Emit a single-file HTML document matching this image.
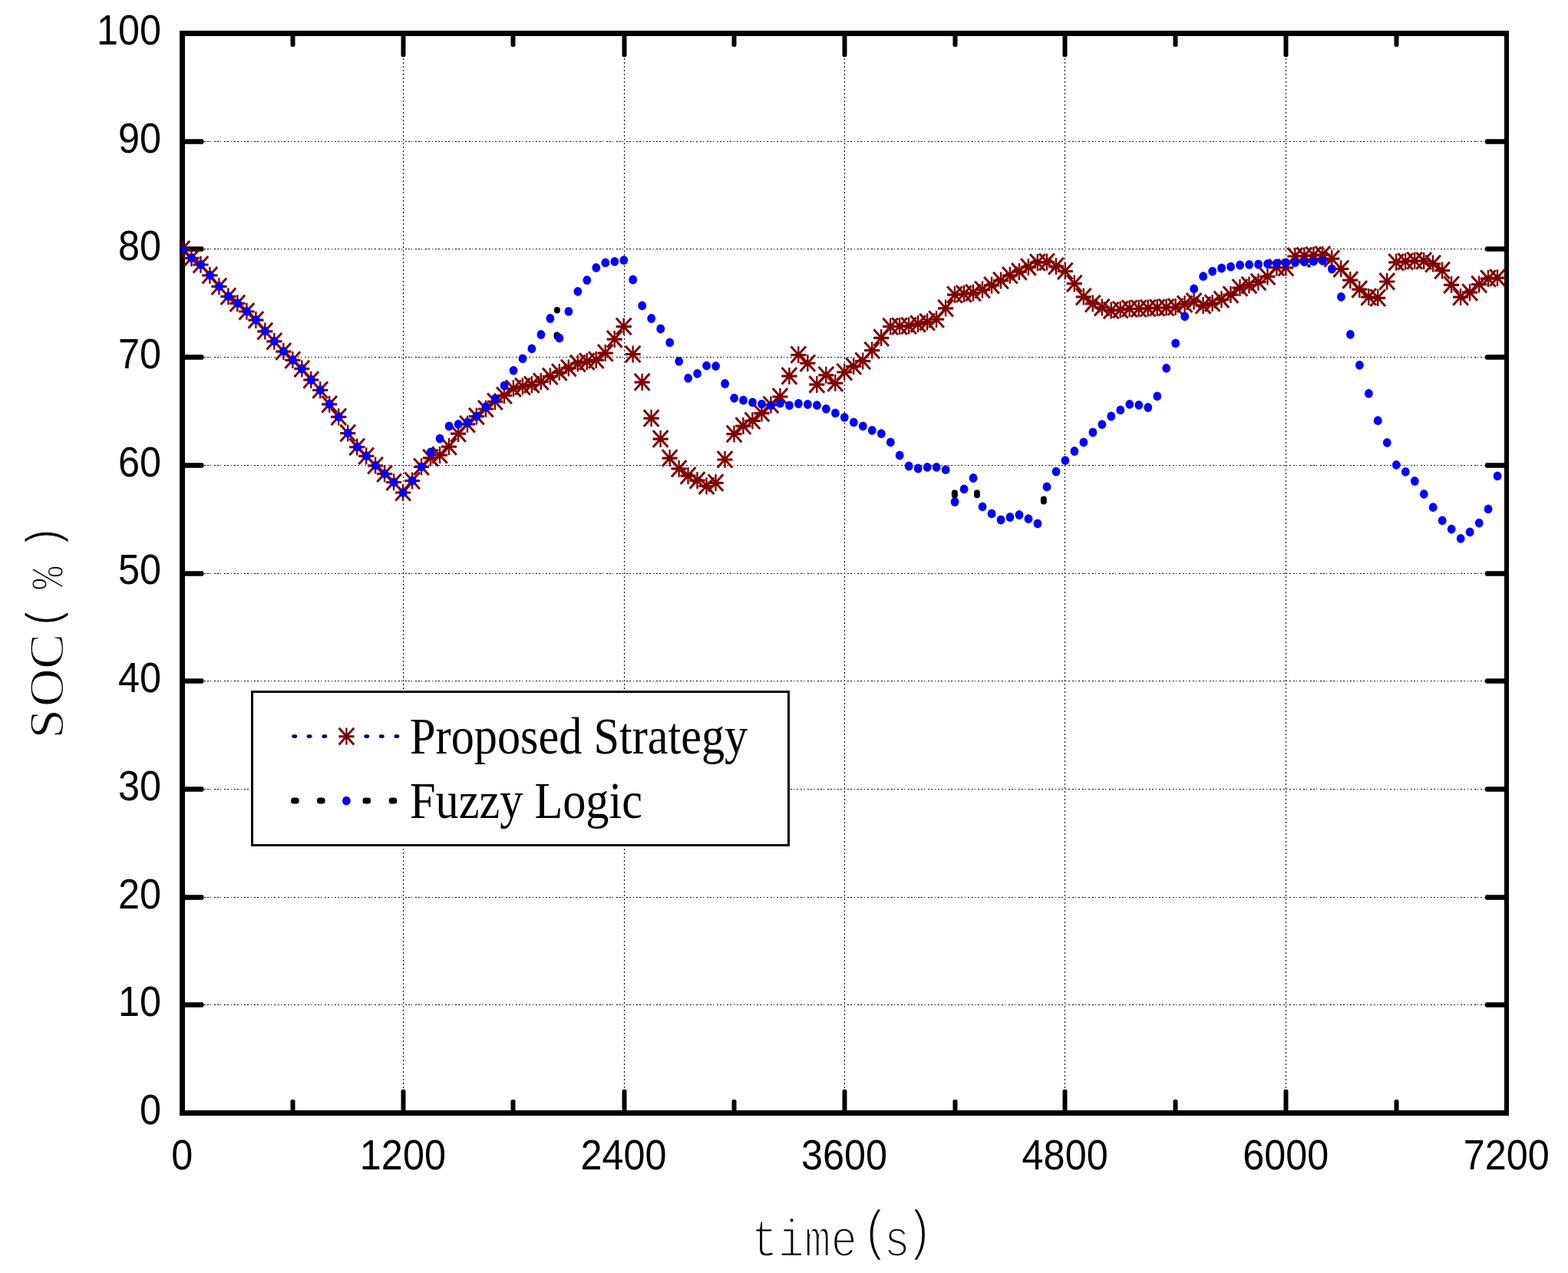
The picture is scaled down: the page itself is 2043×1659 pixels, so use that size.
<!DOCTYPE html>
<html lang="en">
<head>
<meta charset="utf-8">
<title>SOC vs time</title>
<style>
html,body{margin:0;padding:0;background:#fff;}
body{width:2043px;height:1659px;overflow:hidden;}
svg{display:block;}
</style>
</head>
<body>
<svg width="2043" height="1659" viewBox="0 0 2043 1659">
<rect width="2043" height="1659" fill="#fff"/>
<g stroke="#000" stroke-width="1" fill="none" shape-rendering="crispEdges">
<g stroke-dasharray="2 2.4 2 2.4 1 3.3">
<line x1="265.5" y1="1309.5" x2="1937.0" y2="1309.5"/>
<line x1="265.5" y1="1169.5" x2="1937.0" y2="1169.5"/>
<line x1="265.5" y1="1028.5" x2="1937.0" y2="1028.5"/>
<line x1="265.5" y1="887.5" x2="1937.0" y2="887.5"/>
<line x1="265.5" y1="747.5" x2="1937.0" y2="747.5"/>
<line x1="265.5" y1="606.5" x2="1937.0" y2="606.5"/>
<line x1="265.5" y1="465.5" x2="1937.0" y2="465.5"/>
<line x1="265.5" y1="324.5" x2="1937.0" y2="324.5"/>
<line x1="265.5" y1="184.5" x2="1937.0" y2="184.5"/>
</g>
<g stroke-dasharray="2 3">
<line x1="525.5" y1="75.5" x2="525.5" y2="1418.5"/>
<line x1="813.5" y1="75.5" x2="813.5" y2="1418.5"/>
<line x1="1100.5" y1="75.5" x2="1100.5" y2="1418.5"/>
<line x1="1387.5" y1="75.5" x2="1387.5" y2="1418.5"/>
<line x1="1675.5" y1="75.5" x2="1675.5" y2="1418.5"/>
</g>
</g>
<g fill="#000">
<rect x="237.5" y="1306.2" width="28.0" height="6.6" rx="2.2"/>
<rect x="1935.0" y="1306.2" width="28.0" height="6.6" rx="2.2"/>
<rect x="237.5" y="1166.2" width="28.0" height="6.6" rx="2.2"/>
<rect x="1935.0" y="1166.2" width="28.0" height="6.6" rx="2.2"/>
<rect x="237.5" y="1025.2" width="28.0" height="6.6" rx="2.2"/>
<rect x="1935.0" y="1025.2" width="28.0" height="6.6" rx="2.2"/>
<rect x="237.5" y="884.2" width="28.0" height="6.6" rx="2.2"/>
<rect x="1935.0" y="884.2" width="28.0" height="6.6" rx="2.2"/>
<rect x="237.5" y="744.2" width="28.0" height="6.6" rx="2.2"/>
<rect x="1935.0" y="744.2" width="28.0" height="6.6" rx="2.2"/>
<rect x="237.5" y="603.2" width="28.0" height="6.6" rx="2.2"/>
<rect x="1935.0" y="603.2" width="28.0" height="6.6" rx="2.2"/>
<rect x="237.5" y="462.2" width="28.0" height="6.6" rx="2.2"/>
<rect x="1935.0" y="462.2" width="28.0" height="6.6" rx="2.2"/>
<rect x="237.5" y="321.2" width="28.0" height="6.6" rx="2.2"/>
<rect x="1935.0" y="321.2" width="28.0" height="6.6" rx="2.2"/>
<rect x="237.5" y="181.2" width="28.0" height="6.6" rx="2.2"/>
<rect x="1935.0" y="181.2" width="28.0" height="6.6" rx="2.2"/>
<rect x="378.5" y="1433.0" width="6.0" height="17.5" rx="2.2"/>
<rect x="378.5" y="43.5" width="6.0" height="17.5" rx="2.2"/>
<rect x="522.5" y="1419.7" width="6.0" height="30.8" rx="2.2"/>
<rect x="522.5" y="43.5" width="6.0" height="30.8" rx="2.2"/>
<rect x="665.5" y="1433.0" width="6.0" height="17.5" rx="2.2"/>
<rect x="665.5" y="43.5" width="6.0" height="17.5" rx="2.2"/>
<rect x="810.5" y="1419.7" width="6.0" height="30.8" rx="2.2"/>
<rect x="810.5" y="43.5" width="6.0" height="30.8" rx="2.2"/>
<rect x="953.5" y="1433.0" width="6.0" height="17.5" rx="2.2"/>
<rect x="953.5" y="43.5" width="6.0" height="17.5" rx="2.2"/>
<rect x="1097.5" y="1419.7" width="6.0" height="30.8" rx="2.2"/>
<rect x="1097.5" y="43.5" width="6.0" height="30.8" rx="2.2"/>
<rect x="1241.5" y="1433.0" width="6.0" height="17.5" rx="2.2"/>
<rect x="1241.5" y="43.5" width="6.0" height="17.5" rx="2.2"/>
<rect x="1384.5" y="1419.7" width="6.0" height="30.8" rx="2.2"/>
<rect x="1384.5" y="43.5" width="6.0" height="30.8" rx="2.2"/>
<rect x="1528.5" y="1433.0" width="6.0" height="17.5" rx="2.2"/>
<rect x="1528.5" y="43.5" width="6.0" height="17.5" rx="2.2"/>
<rect x="1672.5" y="1419.7" width="6.0" height="30.8" rx="2.2"/>
<rect x="1672.5" y="43.5" width="6.0" height="30.8" rx="2.2"/>
<rect x="1816.5" y="1433.0" width="6.0" height="17.5" rx="2.2"/>
<rect x="1816.5" y="43.5" width="6.0" height="17.5" rx="2.2"/>
</g>
<g fill="#000" shape-rendering="crispEdges">
<rect x="234" y="40" width="7" height="1414"/>
<rect x="1960" y="40" width="6" height="1414"/>
<rect x="234" y="40" width="1732" height="7"/>
<rect x="234" y="1447" width="1732" height="7"/>
</g>
<defs><clipPath id="cp"><rect x="237" y="43.5" width="1730" height="1407.0"/></clipPath></defs>
<g clip-path="url(#cp)">
<rect x="721.9" y="399.9" width="8.0" height="8.5" rx="4" ry="4" fill="#000"/>
<rect x="721.6" y="432.5" width="8.0" height="10.0" rx="4" ry="4" fill="#000"/>
<rect x="1239.9" y="638.3" width="8.0" height="11.0" rx="4" ry="4" fill="#000"/>
<rect x="1269.0" y="638.3" width="8.0" height="11.0" rx="4" ry="4" fill="#000"/>
<rect x="1355.9" y="646.6" width="8.0" height="11.0" rx="4" ry="4" fill="#000"/>
<rect x="1703.5" y="344.5" width="4" height="4" fill="#000080"/>
<g stroke="#800000" fill="none"><path stroke-width="2.4" d="M237.5 313.7v22M249.5 325.2v22M261.5 333.8v22M273.4 347.7v22M285.4 362.2v22M297.4 375.2v22M309.4 384.2v22M321.4 394.8v22M333.4 405.9v22M345.3 420.6v22M357.3 433.7v22M369.3 446.9v22M381.3 458.1v22M393.3 469.5v22M405.3 484.0v22M417.2 497.3v22M429.2 515.7v22M441.2 532.2v22M453.2 553.4v22M465.2 571.4v22M477.2 583.2v22M489.1 595.6v22M501.1 606.3v22M513.1 617.3v22M525.1 630.8v22M537.1 615.4v22M549.0 597.3v22M561.0 585.6v22M573.0 582.0v22M585.0 570.9v22M597.0 554.0v22M609.0 541.7v22M620.9 531.5v22M632.9 521.8v22M644.9 512.2v22M656.9 504.3v22M668.9 495.3v22M680.9 492.6v22M692.8 490.2v22M704.8 486.2v22M716.8 479.5v22M728.8 474.1v22M740.8 468.6v22M752.8 462.6v22M764.7 460.1v22M776.7 458.1v22M788.7 448.9v22M800.7 430.9v22M812.7 414.4v22M824.6 450.5v22M836.6 486.9v22M848.6 534.0v22M860.6 560.9v22M872.6 586.0v22M884.6 599.7v22M896.5 608.9v22M908.5 615.0v22M920.5 622.3v22M932.5 618.1v22M944.5 587.8v22M956.5 554.4v22M968.4 544.0v22M980.4 537.3v22M992.4 527.5v22M1004.4 516.5v22M1016.4 505.8v22M1028.4 478.9v22M1040.3 451.3v22M1052.3 462.2v22M1064.3 490.0v22M1076.3 477.7v22M1088.3 488.1v22M1100.2 473.8v22M1112.2 466.3v22M1124.2 459.4v22M1136.2 445.5v22M1148.2 429.1v22M1160.2 414.5v22M1172.1 414.1v22M1184.1 413.5v22M1196.1 411.0v22M1208.1 408.6v22M1220.1 405.0v22M1232.1 390.6v22M1244.0 373.0v22M1256.0 372.0v22M1268.0 370.5v22M1280.0 366.5v22M1292.0 360.7v22M1304.0 354.5v22M1315.9 347.8v22M1327.9 342.9v22M1339.9 336.9v22M1351.9 331.0v22M1363.9 330.4v22M1375.9 335.9v22M1387.8 342.3v22M1399.8 358.5v22M1411.8 375.6v22M1423.8 384.6v22M1435.8 389.6v22M1447.7 393.5v22M1459.7 392.6v22M1471.7 391.1v22M1483.7 391.1v22M1495.7 390.6v22M1507.7 390.0v22M1519.6 389.6v22M1531.6 388.9v22M1543.6 385.2v22M1555.6 381.8v22M1567.6 386.9v22M1579.6 384.0v22M1591.5 379.3v22M1603.5 373.0v22M1615.5 363.9v22M1627.5 360.5v22M1639.5 356.5v22M1651.5 349.2v22M1663.4 337.5v22M1675.4 337.6v22M1687.4 322.8v22M1699.4 322.3v22M1711.4 321.6v22M1723.3 320.9v22M1735.3 326.0v22M1747.3 339.2v22M1759.3 353.9v22M1771.3 365.9v22M1783.3 375.9v22M1795.2 377.1v22M1807.2 355.8v22M1819.2 330.7v22M1831.2 329.7v22M1843.2 328.6v22M1855.2 328.9v22M1867.1 332.6v22M1879.1 341.4v22M1891.1 360.1v22M1903.1 375.9v22M1915.1 370.0v22M1927.1 359.5v22M1939.0 352.0v22M1951.0 350.9v22"/><path stroke-width="3.2" d="M227.4 324.9h20.2M239.4 336.4h20.2M251.4 345.0h20.2M263.3 358.9h20.2M275.3 373.4h20.2M287.3 386.4h20.2M299.3 395.4h20.2M311.3 406.0h20.2M323.3 417.1h20.2M335.2 431.8h20.2M347.2 444.9h20.2M359.2 458.1h20.2M371.2 469.3h20.2M383.2 480.7h20.2M395.2 495.2h20.2M407.1 508.5h20.2M419.1 526.9h20.2M431.1 543.4h20.2M443.1 564.6h20.2M455.1 582.6h20.2M467.1 594.4h20.2M479.0 606.8h20.2M491.0 617.5h20.2M503.0 628.5h20.2M515.0 642.0h20.2M527.0 626.6h20.2M538.9 608.5h20.2M550.9 596.8h20.2M562.9 593.2h20.2M574.9 582.1h20.2M586.9 565.2h20.2M598.9 552.9h20.2M610.8 542.7h20.2M622.8 533.0h20.2M634.8 523.4h20.2M646.8 515.5h20.2M658.8 506.5h20.2M670.8 503.8h20.2M682.7 501.4h20.2M694.7 497.4h20.2M706.7 490.7h20.2M718.7 485.3h20.2M730.7 479.8h20.2M742.7 473.8h20.2M754.6 471.3h20.2M766.6 469.3h20.2M778.6 460.1h20.2M790.6 442.1h20.2M802.6 425.6h20.2M814.5 461.7h20.2M826.5 498.1h20.2M838.5 545.2h20.2M850.5 572.1h20.2M862.5 597.2h20.2M874.5 610.9h20.2M886.4 620.1h20.2M898.4 626.2h20.2M910.4 633.5h20.2M922.4 629.3h20.2M934.4 599.0h20.2M946.4 565.6h20.2M958.3 555.2h20.2M970.3 548.5h20.2M982.3 538.7h20.2M994.3 527.7h20.2M1006.3 517.0h20.2M1018.3 490.1h20.2M1030.2 462.5h20.2M1042.2 473.4h20.2M1054.2 501.2h20.2M1066.2 488.9h20.2M1078.2 499.3h20.2M1090.2 485.0h20.2M1102.1 477.5h20.2M1114.1 470.6h20.2M1126.1 456.7h20.2M1138.1 440.3h20.2M1150.1 425.7h20.2M1162.0 425.3h20.2M1174.0 424.7h20.2M1186.0 422.2h20.2M1198.0 419.8h20.2M1210.0 416.2h20.2M1222.0 401.8h20.2M1233.9 384.2h20.2M1245.9 383.2h20.2M1257.9 381.7h20.2M1269.9 377.7h20.2M1281.9 371.9h20.2M1293.9 365.7h20.2M1305.8 359.0h20.2M1317.8 354.1h20.2M1329.8 348.1h20.2M1341.8 342.2h20.2M1353.8 341.6h20.2M1365.8 347.1h20.2M1377.7 353.5h20.2M1389.7 369.7h20.2M1401.7 386.8h20.2M1413.7 395.8h20.2M1425.7 400.8h20.2M1437.6 404.7h20.2M1449.6 403.8h20.2M1461.6 402.3h20.2M1473.6 402.3h20.2M1485.6 401.8h20.2M1497.6 401.2h20.2M1509.5 400.8h20.2M1521.5 400.1h20.2M1533.5 396.4h20.2M1545.5 393.0h20.2M1557.5 398.1h20.2M1569.5 395.2h20.2M1581.4 390.5h20.2M1593.4 384.2h20.2M1605.4 375.1h20.2M1617.4 371.7h20.2M1629.4 367.7h20.2M1641.4 360.4h20.2M1653.3 348.7h20.2M1665.3 348.8h20.2M1677.3 334.0h20.2M1689.3 333.5h20.2M1701.3 332.8h20.2M1713.2 332.1h20.2M1725.2 337.2h20.2M1737.2 350.4h20.2M1749.2 365.1h20.2M1761.2 377.1h20.2M1773.2 387.1h20.2M1785.1 388.3h20.2M1797.1 367.0h20.2M1809.1 341.9h20.2M1821.1 340.9h20.2M1833.1 339.8h20.2M1845.1 340.1h20.2M1857.0 343.8h20.2M1869.0 352.6h20.2M1881.0 371.3h20.2M1893.0 387.1h20.2M1905.0 381.2h20.2M1917.0 370.7h20.2M1928.9 363.2h20.2M1940.9 362.1h20.2"/><path stroke-width="3" d="M227.7 313.9l19.6 21.6m0-21.6l-19.6 21.6M239.7 325.4l19.6 21.6m0-21.6l-19.6 21.6M251.7 334.0l19.6 21.6m0-21.6l-19.6 21.6M263.6 347.9l19.6 21.6m0-21.6l-19.6 21.6M275.6 362.4l19.6 21.6m0-21.6l-19.6 21.6M287.6 375.4l19.6 21.6m0-21.6l-19.6 21.6M299.6 384.4l19.6 21.6m0-21.6l-19.6 21.6M311.6 395.0l19.6 21.6m0-21.6l-19.6 21.6M323.6 406.1l19.6 21.6m0-21.6l-19.6 21.6M335.5 420.8l19.6 21.6m0-21.6l-19.6 21.6M347.5 433.9l19.6 21.6m0-21.6l-19.6 21.6M359.5 447.1l19.6 21.6m0-21.6l-19.6 21.6M371.5 458.3l19.6 21.6m0-21.6l-19.6 21.6M383.5 469.7l19.6 21.6m0-21.6l-19.6 21.6M395.5 484.2l19.6 21.6m0-21.6l-19.6 21.6M407.4 497.5l19.6 21.6m0-21.6l-19.6 21.6M419.4 515.9l19.6 21.6m0-21.6l-19.6 21.6M431.4 532.4l19.6 21.6m0-21.6l-19.6 21.6M443.4 553.6l19.6 21.6m0-21.6l-19.6 21.6M455.4 571.6l19.6 21.6m0-21.6l-19.6 21.6M467.4 583.4l19.6 21.6m0-21.6l-19.6 21.6M479.3 595.8l19.6 21.6m0-21.6l-19.6 21.6M491.3 606.5l19.6 21.6m0-21.6l-19.6 21.6M503.3 617.5l19.6 21.6m0-21.6l-19.6 21.6M515.3 631.0l19.6 21.6m0-21.6l-19.6 21.6M527.3 615.6l19.6 21.6m0-21.6l-19.6 21.6M539.2 597.5l19.6 21.6m0-21.6l-19.6 21.6M551.2 585.8l19.6 21.6m0-21.6l-19.6 21.6M563.2 582.2l19.6 21.6m0-21.6l-19.6 21.6M575.2 571.1l19.6 21.6m0-21.6l-19.6 21.6M587.2 554.2l19.6 21.6m0-21.6l-19.6 21.6M599.2 541.9l19.6 21.6m0-21.6l-19.6 21.6M611.1 531.7l19.6 21.6m0-21.6l-19.6 21.6M623.1 522.0l19.6 21.6m0-21.6l-19.6 21.6M635.1 512.4l19.6 21.6m0-21.6l-19.6 21.6M647.1 504.5l19.6 21.6m0-21.6l-19.6 21.6M659.1 495.5l19.6 21.6m0-21.6l-19.6 21.6M671.1 492.8l19.6 21.6m0-21.6l-19.6 21.6M683.0 490.4l19.6 21.6m0-21.6l-19.6 21.6M695.0 486.4l19.6 21.6m0-21.6l-19.6 21.6M707.0 479.7l19.6 21.6m0-21.6l-19.6 21.6M719.0 474.3l19.6 21.6m0-21.6l-19.6 21.6M731.0 468.8l19.6 21.6m0-21.6l-19.6 21.6M743.0 462.8l19.6 21.6m0-21.6l-19.6 21.6M754.9 460.3l19.6 21.6m0-21.6l-19.6 21.6M766.9 458.3l19.6 21.6m0-21.6l-19.6 21.6M778.9 449.1l19.6 21.6m0-21.6l-19.6 21.6M790.9 431.1l19.6 21.6m0-21.6l-19.6 21.6M802.9 414.6l19.6 21.6m0-21.6l-19.6 21.6M814.8 450.7l19.6 21.6m0-21.6l-19.6 21.6M826.8 487.1l19.6 21.6m0-21.6l-19.6 21.6M838.8 534.2l19.6 21.6m0-21.6l-19.6 21.6M850.8 561.1l19.6 21.6m0-21.6l-19.6 21.6M862.8 586.2l19.6 21.6m0-21.6l-19.6 21.6M874.8 599.9l19.6 21.6m0-21.6l-19.6 21.6M886.7 609.1l19.6 21.6m0-21.6l-19.6 21.6M898.7 615.2l19.6 21.6m0-21.6l-19.6 21.6M910.7 622.5l19.6 21.6m0-21.6l-19.6 21.6M922.7 618.3l19.6 21.6m0-21.6l-19.6 21.6M934.7 588.0l19.6 21.6m0-21.6l-19.6 21.6M946.7 554.6l19.6 21.6m0-21.6l-19.6 21.6M958.6 544.2l19.6 21.6m0-21.6l-19.6 21.6M970.6 537.5l19.6 21.6m0-21.6l-19.6 21.6M982.6 527.7l19.6 21.6m0-21.6l-19.6 21.6M994.6 516.7l19.6 21.6m0-21.6l-19.6 21.6M1006.6 506.0l19.6 21.6m0-21.6l-19.6 21.6M1018.6 479.1l19.6 21.6m0-21.6l-19.6 21.6M1030.5 451.5l19.6 21.6m0-21.6l-19.6 21.6M1042.5 462.4l19.6 21.6m0-21.6l-19.6 21.6M1054.5 490.2l19.6 21.6m0-21.6l-19.6 21.6M1066.5 477.9l19.6 21.6m0-21.6l-19.6 21.6M1078.5 488.3l19.6 21.6m0-21.6l-19.6 21.6M1090.5 474.0l19.6 21.6m0-21.6l-19.6 21.6M1102.4 466.5l19.6 21.6m0-21.6l-19.6 21.6M1114.4 459.6l19.6 21.6m0-21.6l-19.6 21.6M1126.4 445.7l19.6 21.6m0-21.6l-19.6 21.6M1138.4 429.3l19.6 21.6m0-21.6l-19.6 21.6M1150.4 414.7l19.6 21.6m0-21.6l-19.6 21.6M1162.3 414.3l19.6 21.6m0-21.6l-19.6 21.6M1174.3 413.7l19.6 21.6m0-21.6l-19.6 21.6M1186.3 411.2l19.6 21.6m0-21.6l-19.6 21.6M1198.3 408.8l19.6 21.6m0-21.6l-19.6 21.6M1210.3 405.2l19.6 21.6m0-21.6l-19.6 21.6M1222.3 390.8l19.6 21.6m0-21.6l-19.6 21.6M1234.2 373.2l19.6 21.6m0-21.6l-19.6 21.6M1246.2 372.2l19.6 21.6m0-21.6l-19.6 21.6M1258.2 370.7l19.6 21.6m0-21.6l-19.6 21.6M1270.2 366.7l19.6 21.6m0-21.6l-19.6 21.6M1282.2 360.9l19.6 21.6m0-21.6l-19.6 21.6M1294.2 354.7l19.6 21.6m0-21.6l-19.6 21.6M1306.1 348.0l19.6 21.6m0-21.6l-19.6 21.6M1318.1 343.1l19.6 21.6m0-21.6l-19.6 21.6M1330.1 337.1l19.6 21.6m0-21.6l-19.6 21.6M1342.1 331.2l19.6 21.6m0-21.6l-19.6 21.6M1354.1 330.6l19.6 21.6m0-21.6l-19.6 21.6M1366.1 336.1l19.6 21.6m0-21.6l-19.6 21.6M1378.0 342.5l19.6 21.6m0-21.6l-19.6 21.6M1390.0 358.7l19.6 21.6m0-21.6l-19.6 21.6M1402.0 375.8l19.6 21.6m0-21.6l-19.6 21.6M1414.0 384.8l19.6 21.6m0-21.6l-19.6 21.6M1426.0 389.8l19.6 21.6m0-21.6l-19.6 21.6M1437.9 393.7l19.6 21.6m0-21.6l-19.6 21.6M1449.9 392.8l19.6 21.6m0-21.6l-19.6 21.6M1461.9 391.3l19.6 21.6m0-21.6l-19.6 21.6M1473.9 391.3l19.6 21.6m0-21.6l-19.6 21.6M1485.9 390.8l19.6 21.6m0-21.6l-19.6 21.6M1497.9 390.2l19.6 21.6m0-21.6l-19.6 21.6M1509.8 389.8l19.6 21.6m0-21.6l-19.6 21.6M1521.8 389.1l19.6 21.6m0-21.6l-19.6 21.6M1533.8 385.4l19.6 21.6m0-21.6l-19.6 21.6M1545.8 382.0l19.6 21.6m0-21.6l-19.6 21.6M1557.8 387.1l19.6 21.6m0-21.6l-19.6 21.6M1569.8 384.2l19.6 21.6m0-21.6l-19.6 21.6M1581.7 379.5l19.6 21.6m0-21.6l-19.6 21.6M1593.7 373.2l19.6 21.6m0-21.6l-19.6 21.6M1605.7 364.1l19.6 21.6m0-21.6l-19.6 21.6M1617.7 360.7l19.6 21.6m0-21.6l-19.6 21.6M1629.7 356.7l19.6 21.6m0-21.6l-19.6 21.6M1641.7 349.4l19.6 21.6m0-21.6l-19.6 21.6M1653.6 337.7l19.6 21.6m0-21.6l-19.6 21.6M1665.6 337.8l19.6 21.6m0-21.6l-19.6 21.6M1677.6 323.0l19.6 21.6m0-21.6l-19.6 21.6M1689.6 322.5l19.6 21.6m0-21.6l-19.6 21.6M1701.6 321.8l19.6 21.6m0-21.6l-19.6 21.6M1713.5 321.1l19.6 21.6m0-21.6l-19.6 21.6M1725.5 326.2l19.6 21.6m0-21.6l-19.6 21.6M1737.5 339.4l19.6 21.6m0-21.6l-19.6 21.6M1749.5 354.1l19.6 21.6m0-21.6l-19.6 21.6M1761.5 366.1l19.6 21.6m0-21.6l-19.6 21.6M1773.5 376.1l19.6 21.6m0-21.6l-19.6 21.6M1785.4 377.3l19.6 21.6m0-21.6l-19.6 21.6M1797.4 356.0l19.6 21.6m0-21.6l-19.6 21.6M1809.4 330.9l19.6 21.6m0-21.6l-19.6 21.6M1821.4 329.9l19.6 21.6m0-21.6l-19.6 21.6M1833.4 328.8l19.6 21.6m0-21.6l-19.6 21.6M1845.4 329.1l19.6 21.6m0-21.6l-19.6 21.6M1857.3 332.8l19.6 21.6m0-21.6l-19.6 21.6M1869.3 341.6l19.6 21.6m0-21.6l-19.6 21.6M1881.3 360.3l19.6 21.6m0-21.6l-19.6 21.6M1893.3 376.1l19.6 21.6m0-21.6l-19.6 21.6M1905.3 370.2l19.6 21.6m0-21.6l-19.6 21.6M1917.3 359.7l19.6 21.6m0-21.6l-19.6 21.6M1929.2 352.2l19.6 21.6m0-21.6l-19.6 21.6M1941.2 351.1l19.6 21.6m0-21.6l-19.6 21.6"/><path stroke-width="6.8" stroke-linecap="round" d="M237.5 324.7h0.01M249.5 336.2h0.01M261.5 344.8h0.01M273.4 358.7h0.01M285.4 373.2h0.01M297.4 386.2h0.01M309.4 395.2h0.01M321.4 405.8h0.01M333.4 416.9h0.01M345.3 431.6h0.01M357.3 444.7h0.01M369.3 457.9h0.01M381.3 469.1h0.01M393.3 480.5h0.01M405.3 495.0h0.01M417.2 508.3h0.01M429.2 526.7h0.01M441.2 543.2h0.01M453.2 564.4h0.01M465.2 582.4h0.01M477.2 594.2h0.01M489.1 606.6h0.01M501.1 617.3h0.01M513.1 628.3h0.01M525.1 641.8h0.01M537.1 626.4h0.01M549.0 608.3h0.01M561.0 596.6h0.01M573.0 593.0h0.01M585.0 581.9h0.01M597.0 565.0h0.01M609.0 552.7h0.01M620.9 542.5h0.01M632.9 532.8h0.01M644.9 523.2h0.01M656.9 515.3h0.01M668.9 506.3h0.01M680.9 503.6h0.01M692.8 501.2h0.01M704.8 497.2h0.01M716.8 490.5h0.01M728.8 485.1h0.01M740.8 479.6h0.01M752.8 473.6h0.01M764.7 471.1h0.01M776.7 469.1h0.01M788.7 459.9h0.01M800.7 441.9h0.01M812.7 425.4h0.01M824.6 461.5h0.01M836.6 497.9h0.01M848.6 545.0h0.01M860.6 571.9h0.01M872.6 597.0h0.01M884.6 610.7h0.01M896.5 619.9h0.01M908.5 626.0h0.01M920.5 633.3h0.01M932.5 629.1h0.01M944.5 598.8h0.01M956.5 565.4h0.01M968.4 555.0h0.01M980.4 548.3h0.01M992.4 538.5h0.01M1004.4 527.5h0.01M1016.4 516.8h0.01M1028.4 489.9h0.01M1040.3 462.3h0.01M1052.3 473.2h0.01M1064.3 501.0h0.01M1076.3 488.7h0.01M1088.3 499.1h0.01M1100.2 484.8h0.01M1112.2 477.3h0.01M1124.2 470.4h0.01M1136.2 456.5h0.01M1148.2 440.1h0.01M1160.2 425.5h0.01M1172.1 425.1h0.01M1184.1 424.5h0.01M1196.1 422.0h0.01M1208.1 419.6h0.01M1220.1 416.0h0.01M1232.1 401.6h0.01M1244.0 384.0h0.01M1256.0 383.0h0.01M1268.0 381.5h0.01M1280.0 377.5h0.01M1292.0 371.7h0.01M1304.0 365.5h0.01M1315.9 358.8h0.01M1327.9 353.9h0.01M1339.9 347.9h0.01M1351.9 342.0h0.01M1363.9 341.4h0.01M1375.9 346.9h0.01M1387.8 353.3h0.01M1399.8 369.5h0.01M1411.8 386.6h0.01M1423.8 395.6h0.01M1435.8 400.6h0.01M1447.7 404.5h0.01M1459.7 403.6h0.01M1471.7 402.1h0.01M1483.7 402.1h0.01M1495.7 401.6h0.01M1507.7 401.0h0.01M1519.6 400.6h0.01M1531.6 399.9h0.01M1543.6 396.2h0.01M1555.6 392.8h0.01M1567.6 397.9h0.01M1579.6 395.0h0.01M1591.5 390.3h0.01M1603.5 384.0h0.01M1615.5 374.9h0.01M1627.5 371.5h0.01M1639.5 367.5h0.01M1651.5 360.2h0.01M1663.4 348.5h0.01M1675.4 348.6h0.01M1687.4 333.8h0.01M1699.4 333.3h0.01M1711.4 332.6h0.01M1723.3 331.9h0.01M1735.3 337.0h0.01M1747.3 350.2h0.01M1759.3 364.9h0.01M1771.3 376.9h0.01M1783.3 386.9h0.01M1795.2 388.1h0.01M1807.2 366.8h0.01M1819.2 341.7h0.01M1831.2 340.7h0.01M1843.2 339.6h0.01M1855.2 339.9h0.01M1867.1 343.6h0.01M1879.1 352.4h0.01M1891.1 371.1h0.01M1903.1 386.9h0.01M1915.1 381.0h0.01M1927.1 370.5h0.01M1939.0 363.0h0.01M1951.0 361.9h0.01"/></g>
<g fill="#0000ff"><ellipse cx="237.6" cy="324.7" rx="5.4" ry="5.9"/><ellipse cx="249.6" cy="336.2" rx="5.4" ry="5.9"/><ellipse cx="261.6" cy="344.8" rx="5.4" ry="5.9"/><ellipse cx="273.5" cy="358.7" rx="5.4" ry="5.9"/><ellipse cx="285.5" cy="373.2" rx="5.4" ry="5.9"/><ellipse cx="297.5" cy="386.2" rx="5.4" ry="5.9"/><ellipse cx="309.5" cy="395.2" rx="5.4" ry="5.9"/><ellipse cx="321.5" cy="405.8" rx="5.4" ry="5.9"/><ellipse cx="333.5" cy="416.9" rx="5.4" ry="5.9"/><ellipse cx="345.4" cy="431.6" rx="5.4" ry="5.9"/><ellipse cx="357.4" cy="444.7" rx="5.4" ry="5.9"/><ellipse cx="369.4" cy="457.9" rx="5.4" ry="5.9"/><ellipse cx="381.4" cy="469.1" rx="5.4" ry="5.9"/><ellipse cx="393.4" cy="480.5" rx="5.4" ry="5.9"/><ellipse cx="405.4" cy="495.0" rx="5.4" ry="5.9"/><ellipse cx="417.3" cy="508.3" rx="5.4" ry="5.9"/><ellipse cx="429.3" cy="526.7" rx="5.4" ry="5.9"/><ellipse cx="441.3" cy="543.2" rx="5.4" ry="5.9"/><ellipse cx="453.3" cy="564.4" rx="5.4" ry="5.9"/><ellipse cx="465.3" cy="582.4" rx="5.4" ry="5.9"/><ellipse cx="477.3" cy="594.2" rx="5.4" ry="5.9"/><ellipse cx="489.2" cy="606.6" rx="5.4" ry="5.9"/><ellipse cx="501.2" cy="617.3" rx="5.4" ry="5.9"/><ellipse cx="513.2" cy="628.3" rx="5.4" ry="5.9"/><ellipse cx="525.2" cy="641.8" rx="5.4" ry="5.9"/><ellipse cx="537.2" cy="626.4" rx="5.4" ry="5.9"/><ellipse cx="549.1" cy="608.3" rx="5.4" ry="5.9"/><ellipse cx="561.1" cy="589.3" rx="5.4" ry="5.9"/><ellipse cx="573.1" cy="571.6" rx="5.4" ry="5.9"/><ellipse cx="585.1" cy="555.5" rx="5.4" ry="5.9"/><ellipse cx="597.1" cy="552.9" rx="5.4" ry="5.9"/><ellipse cx="609.1" cy="550.3" rx="5.4" ry="5.9"/><ellipse cx="621.0" cy="542.5" rx="5.4" ry="5.9"/><ellipse cx="633.0" cy="530.1" rx="5.4" ry="5.9"/><ellipse cx="645.0" cy="519.6" rx="5.4" ry="5.9"/><ellipse cx="657.0" cy="502.7" rx="5.4" ry="5.9"/><ellipse cx="669.0" cy="482.8" rx="5.4" ry="5.9"/><ellipse cx="681.0" cy="467.3" rx="5.4" ry="5.9"/><ellipse cx="692.9" cy="454.4" rx="5.4" ry="5.9"/><ellipse cx="704.9" cy="436.0" rx="5.4" ry="5.9"/><ellipse cx="716.9" cy="415.0" rx="5.4" ry="5.9"/><ellipse cx="728.9" cy="440.7" rx="5.4" ry="5.9"/><ellipse cx="740.9" cy="405.8" rx="5.4" ry="5.9"/><ellipse cx="752.9" cy="379.8" rx="5.4" ry="5.9"/><ellipse cx="764.8" cy="365.1" rx="5.4" ry="5.9"/><ellipse cx="776.8" cy="348.9" rx="5.4" ry="5.9"/><ellipse cx="788.8" cy="342.4" rx="5.4" ry="5.9"/><ellipse cx="800.8" cy="340.8" rx="5.4" ry="5.9"/><ellipse cx="812.8" cy="339.1" rx="5.4" ry="5.9"/><ellipse cx="824.7" cy="364.5" rx="5.4" ry="5.9"/><ellipse cx="836.7" cy="398.4" rx="5.4" ry="5.9"/><ellipse cx="848.7" cy="415.0" rx="5.4" ry="5.9"/><ellipse cx="860.7" cy="428.5" rx="5.4" ry="5.9"/><ellipse cx="872.7" cy="446.3" rx="5.4" ry="5.9"/><ellipse cx="884.7" cy="470.8" rx="5.4" ry="5.9"/><ellipse cx="896.6" cy="492.9" rx="5.4" ry="5.9"/><ellipse cx="908.6" cy="486.8" rx="5.4" ry="5.9"/><ellipse cx="920.6" cy="476.6" rx="5.4" ry="5.9"/><ellipse cx="932.6" cy="477.1" rx="5.4" ry="5.9"/><ellipse cx="944.6" cy="500.0" rx="5.4" ry="5.9"/><ellipse cx="956.6" cy="518.9" rx="5.4" ry="5.9"/><ellipse cx="968.5" cy="521.7" rx="5.4" ry="5.9"/><ellipse cx="980.5" cy="524.4" rx="5.4" ry="5.9"/><ellipse cx="992.5" cy="526.6" rx="5.4" ry="5.9"/><ellipse cx="1004.5" cy="528.4" rx="5.4" ry="5.9"/><ellipse cx="1016.5" cy="525.7" rx="5.4" ry="5.9"/><ellipse cx="1028.5" cy="528.4" rx="5.4" ry="5.9"/><ellipse cx="1040.4" cy="526.0" rx="5.4" ry="5.9"/><ellipse cx="1052.4" cy="527.0" rx="5.4" ry="5.9"/><ellipse cx="1064.4" cy="528.2" rx="5.4" ry="5.9"/><ellipse cx="1076.4" cy="532.8" rx="5.4" ry="5.9"/><ellipse cx="1088.4" cy="538.3" rx="5.4" ry="5.9"/><ellipse cx="1100.3" cy="543.8" rx="5.4" ry="5.9"/><ellipse cx="1112.3" cy="550.3" rx="5.4" ry="5.9"/><ellipse cx="1124.3" cy="555.4" rx="5.4" ry="5.9"/><ellipse cx="1136.3" cy="560.9" rx="5.4" ry="5.9"/><ellipse cx="1148.3" cy="565.2" rx="5.4" ry="5.9"/><ellipse cx="1160.3" cy="576.4" rx="5.4" ry="5.9"/><ellipse cx="1172.2" cy="593.4" rx="5.4" ry="5.9"/><ellipse cx="1184.2" cy="607.5" rx="5.4" ry="5.9"/><ellipse cx="1196.2" cy="610.5" rx="5.4" ry="5.9"/><ellipse cx="1208.2" cy="608.9" rx="5.4" ry="5.9"/><ellipse cx="1220.2" cy="608.9" rx="5.4" ry="5.9"/><ellipse cx="1232.2" cy="612.2" rx="5.4" ry="5.9"/><ellipse cx="1244.1" cy="654.0" rx="5.4" ry="5.9"/><ellipse cx="1256.1" cy="637.4" rx="5.4" ry="5.9"/><ellipse cx="1268.1" cy="623.0" rx="5.4" ry="5.9"/><ellipse cx="1280.1" cy="660.3" rx="5.4" ry="5.9"/><ellipse cx="1292.1" cy="669.3" rx="5.4" ry="5.9"/><ellipse cx="1304.1" cy="677.5" rx="5.4" ry="5.9"/><ellipse cx="1316.0" cy="674.0" rx="5.4" ry="5.9"/><ellipse cx="1328.0" cy="671.0" rx="5.4" ry="5.9"/><ellipse cx="1340.0" cy="676.2" rx="5.4" ry="5.9"/><ellipse cx="1352.0" cy="682.3" rx="5.4" ry="5.9"/><ellipse cx="1364.0" cy="634.4" rx="5.4" ry="5.9"/><ellipse cx="1376.0" cy="614.7" rx="5.4" ry="5.9"/><ellipse cx="1387.9" cy="600.1" rx="5.4" ry="5.9"/><ellipse cx="1399.9" cy="588.0" rx="5.4" ry="5.9"/><ellipse cx="1411.9" cy="576.4" rx="5.4" ry="5.9"/><ellipse cx="1423.9" cy="563.5" rx="5.4" ry="5.9"/><ellipse cx="1435.9" cy="553.1" rx="5.4" ry="5.9"/><ellipse cx="1447.8" cy="542.5" rx="5.4" ry="5.9"/><ellipse cx="1459.8" cy="534.4" rx="5.4" ry="5.9"/><ellipse cx="1471.8" cy="526.8" rx="5.4" ry="5.9"/><ellipse cx="1483.8" cy="527.9" rx="5.4" ry="5.9"/><ellipse cx="1495.8" cy="531.0" rx="5.4" ry="5.9"/><ellipse cx="1507.8" cy="516.3" rx="5.4" ry="5.9"/><ellipse cx="1519.7" cy="479.9" rx="5.4" ry="5.9"/><ellipse cx="1531.7" cy="447.3" rx="5.4" ry="5.9"/><ellipse cx="1543.7" cy="412.3" rx="5.4" ry="5.9"/><ellipse cx="1555.7" cy="376.4" rx="5.4" ry="5.9"/><ellipse cx="1567.7" cy="360.2" rx="5.4" ry="5.9"/><ellipse cx="1579.7" cy="353.6" rx="5.4" ry="5.9"/><ellipse cx="1591.6" cy="349.5" rx="5.4" ry="5.9"/><ellipse cx="1603.6" cy="347.7" rx="5.4" ry="5.9"/><ellipse cx="1615.6" cy="345.5" rx="5.4" ry="5.9"/><ellipse cx="1627.6" cy="344.8" rx="5.4" ry="5.9"/><ellipse cx="1639.6" cy="344.5" rx="5.4" ry="5.9"/><ellipse cx="1651.6" cy="343.8" rx="5.4" ry="5.9"/><ellipse cx="1663.5" cy="343.3" rx="5.4" ry="5.9"/><ellipse cx="1675.5" cy="342.4" rx="5.4" ry="5.9"/><ellipse cx="1687.5" cy="342.1" rx="5.4" ry="5.9"/><ellipse cx="1699.5" cy="341.4" rx="5.4" ry="5.9"/><ellipse cx="1711.5" cy="340.7" rx="5.4" ry="5.9"/><ellipse cx="1723.4" cy="339.9" rx="5.4" ry="5.9"/><ellipse cx="1735.4" cy="350.5" rx="5.4" ry="5.9"/><ellipse cx="1747.4" cy="386.9" rx="5.4" ry="5.9"/><ellipse cx="1759.4" cy="435.8" rx="5.4" ry="5.9"/><ellipse cx="1771.4" cy="475.8" rx="5.4" ry="5.9"/><ellipse cx="1783.4" cy="512.9" rx="5.4" ry="5.9"/><ellipse cx="1795.3" cy="548.2" rx="5.4" ry="5.9"/><ellipse cx="1807.3" cy="576.9" rx="5.4" ry="5.9"/><ellipse cx="1819.3" cy="605.8" rx="5.4" ry="5.9"/><ellipse cx="1831.3" cy="614.8" rx="5.4" ry="5.9"/><ellipse cx="1843.3" cy="627.0" rx="5.4" ry="5.9"/><ellipse cx="1855.3" cy="643.9" rx="5.4" ry="5.9"/><ellipse cx="1867.2" cy="661.2" rx="5.4" ry="5.9"/><ellipse cx="1879.2" cy="678.3" rx="5.4" ry="5.9"/><ellipse cx="1891.2" cy="689.6" rx="5.4" ry="5.9"/><ellipse cx="1903.2" cy="701.8" rx="5.4" ry="5.9"/><ellipse cx="1915.2" cy="693.4" rx="5.4" ry="5.9"/><ellipse cx="1927.2" cy="681.6" rx="5.4" ry="5.9"/><ellipse cx="1939.1" cy="663.3" rx="5.4" ry="5.9"/><ellipse cx="1951.1" cy="620.3" rx="5.4" ry="5.9"/></g>
</g>
<rect x="328.5" y="901.5" width="699" height="199.5" fill="#fff" stroke="#000" stroke-width="3" shape-rendering="crispEdges"/>
<g fill="#000080">
<rect x="380.2" y="957.3" width="7" height="4.6" rx="2.3"/>
<rect x="399.6" y="957.3" width="7" height="4.6" rx="2.3"/>
<rect x="419.3" y="957.3" width="7" height="4.6" rx="2.3"/>
<rect x="474.3" y="957.3" width="7" height="4.6" rx="2.3"/>
<rect x="493.7" y="957.3" width="7" height="4.6" rx="2.3"/>
<rect x="513.4" y="957.3" width="7" height="4.6" rx="2.3"/>
</g>
<g stroke="#800000" fill="none"><path stroke-width="2.4" d="M451.4 948.6v22"/><path stroke-width="3.2" d="M441.3 959.8h20.2"/><path stroke-width="3" d="M441.6 948.8l19.6 21.6m0-21.6l-19.6 21.6"/><path stroke-width="6.8" stroke-linecap="round" d="M451.4 959.6h0.01"/></g>
<g fill="#000">
<rect x="379.1" y="1039.6" width="10.6" height="8" rx="3.6"/>
<rect x="413.0" y="1039.6" width="10.6" height="8" rx="3.6"/>
<rect x="472.5" y="1039.6" width="10.6" height="8" rx="3.6"/>
<rect x="506.7" y="1039.6" width="10.6" height="8" rx="3.6"/>
</g>
<g fill="#0000ff"><ellipse cx="451.4" cy="1043.7" rx="5.4" ry="5.9"/></g>
<g font-family="'Liberation Serif', serif" font-size="67.6" fill="#000">
<text transform="translate(534.1 982) scale(0.8914 1)">Proposed Strategy</text>
<text transform="translate(534.1 1066) scale(0.8914 1)">Fuzzy Logic</text>
</g>
<g font-family="'Liberation Sans', sans-serif" font-size="56.0" fill="#000">
<text transform="translate(210.1 1464.95) scale(0.8993 1)" text-anchor="end">0</text>
<text transform="translate(210.1 1324.25) scale(0.8993 1)" text-anchor="end">10</text>
<text transform="translate(210.1 1183.55) scale(0.8993 1)" text-anchor="end">20</text>
<text transform="translate(210.1 1042.85) scale(0.8993 1)" text-anchor="end">30</text>
<text transform="translate(210.1 902.15) scale(0.8993 1)" text-anchor="end">40</text>
<text transform="translate(210.1 761.45) scale(0.8993 1)" text-anchor="end">50</text>
<text transform="translate(210.1 620.75) scale(0.8993 1)" text-anchor="end">60</text>
<text transform="translate(210.1 480.05) scale(0.8993 1)" text-anchor="end">70</text>
<text transform="translate(210.1 339.35) scale(0.8993 1)" text-anchor="end">80</text>
<text transform="translate(210.1 198.65) scale(0.8993 1)" text-anchor="end">90</text>
<text transform="translate(210.1 57.95) scale(0.8993 1)" text-anchor="end">100</text>
<text transform="translate(237.30 1523.55) scale(0.8993 1)" text-anchor="middle">0</text>
<text transform="translate(524.88 1523.55) scale(0.8993 1)" text-anchor="middle">1200</text>
<text transform="translate(812.47 1523.55) scale(0.8993 1)" text-anchor="middle">2400</text>
<text transform="translate(1100.05 1523.55) scale(0.8993 1)" text-anchor="middle">3600</text>
<text transform="translate(1387.63 1523.55) scale(0.8993 1)" text-anchor="middle">4800</text>
<text transform="translate(1675.22 1523.55) scale(0.8993 1)" text-anchor="middle">6000</text>
<text transform="translate(1962.80 1523.55) scale(0.8993 1)" text-anchor="middle">7200</text>
</g>
<g fill="#000" stroke="#fff">
<text transform="translate(0 1636.6) scale(0.8456 1)" font-family="'Liberation Mono', monospace" font-size="68" stroke-width="2.5" x="1157.8 1198.6 1239.4 1280.2 1327.5 1361.8 1394.9">time<tspan font-size="72.4" dy="-8.9" stroke-width="2.3">(</tspan><tspan dy="8.9">s</tspan><tspan font-size="72.4" dy="-8.9" stroke-width="2.3">)</tspan></text>
<text transform="translate(81.6 962.6) rotate(-90) scale(1.1 1)" font-family="'Liberation Serif', serif" font-size="62.5" stroke-width="1.05" x="0 37.9 82.6">SOC</text>
<text transform="translate(81.8 820.45) rotate(-90) scale(0.82 1)" font-family="'Liberation Mono', monospace" font-size="61.7" stroke-width="1.9" x="1.3 30 63.7 100 128.4"><tspan dy="-5.7" stroke-width="0.9">(</tspan><tspan dy="5.7"> % </tspan><tspan dy="-5.7" stroke-width="0.9">)</tspan></text>
</g>
</svg>
</body>
</html>
